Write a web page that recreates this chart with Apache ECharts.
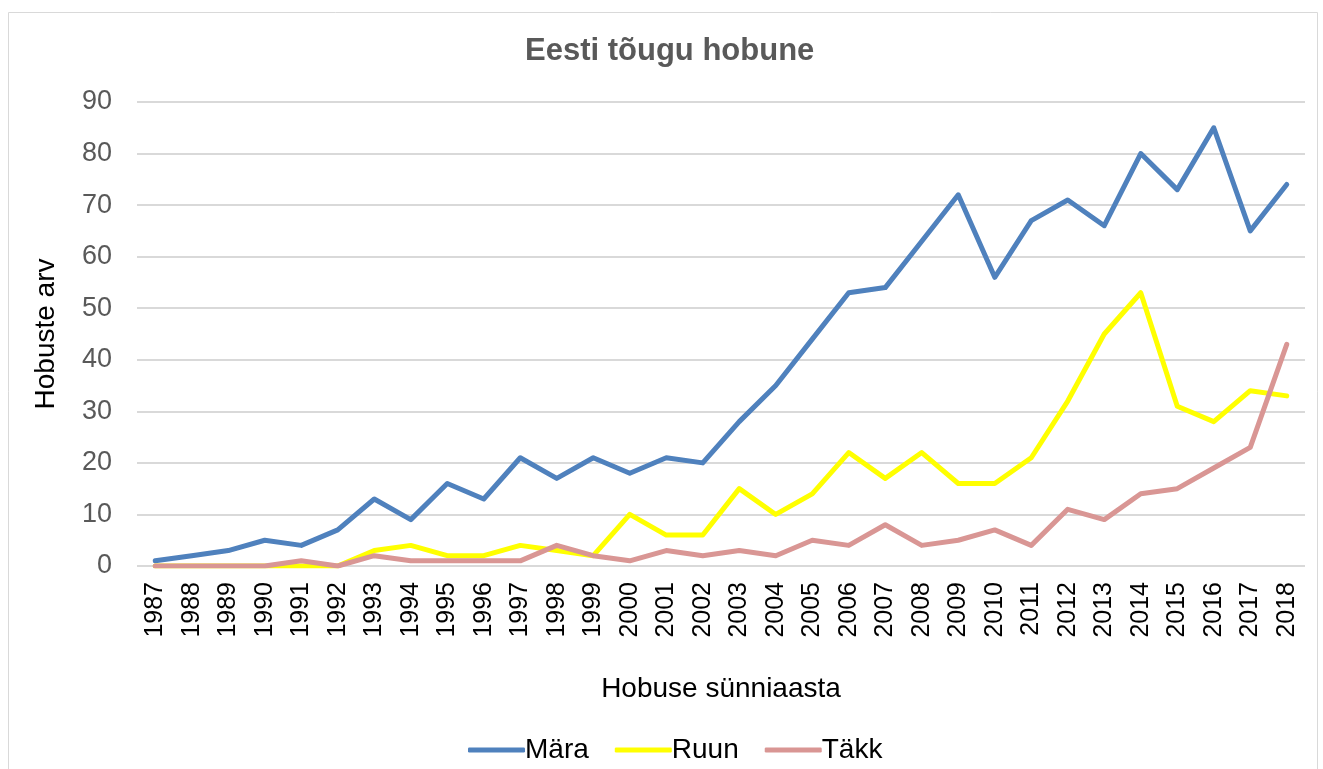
<!DOCTYPE html>
<html>
<head>
<meta charset="utf-8">
<script src="https://cdn.jsdelivr.net/npm/echarts@6/dist/echarts.min.js"></script>
<style>
  html, body { margin: 0; padding: 0; background: #fff; }
  #mychart { width: 1323px; height: 769px; }
</style>
</head>
<body>
<div id="mychart"></div>
<script>
// aastad
const years = ['1987', '1988', '1989', '1990', '1991', '1992', '1993', '1994', '1995', '1996',
  '1997', '1998', '1999', '2000', '2001', '2002', '2003', '2004', '2005', '2006', '2007',
  '2008', '2009', '2010', '2011', '2012', '2013', '2014', '2015', '2016', '2017', '2018'];

const mara = [1, 2, 3, 5, 4, 7, 13, 9, 16, 13, 21, 17, 21, 18, 21, 20, 28, 35, 44, 53, 54,
  63, 72, 56, 67, 71, 66, 80, 73, 85, 65, 74];
const ruun = [0, 0, 0, 0, 0, 0, 3, 4, 2, 2, 4, 3, 2, 10, 6, 6, 15, 10, 14, 22, 17,
  22, 16, 16, 21, 32, 45, 53, 31, 28, 34, 33];
const takk = [0, 0, 0, 0, 1, 0, 2, 1, 1, 1, 1, 4, 2, 1, 3, 2, 3, 2, 5, 4, 8,
  4, 5, 7, 4, 11, 9, 14, 15, 19, 23, 43];

let colors = {
  mara: '#4F81BD',
  ruun: '#FFFF00',
  takk: '#D99694',
  grid: '#d9d9d9',
  label: '#595959',
  text: '#000',
};

const font = 'Liberation Sans, Arial, sans-serif';

function lineSeries(name, data, color) {
  return {
    name: name,
    type: 'line',
    data: data,
    showSymbol: false,
    symbol: 'none',
    color: color,
    lineStyle: { width: 5, color: color, cap: 'round', join: 'round' },
    emphasis: { disabled: true },
  };
}

let option = {
  animation: false,
  textStyle: { fontFamily: font },
  title: {
    text: 'Eesti tõugu hobune',
    left: 520,
    top: 31,
    textStyle: { color: colors.label, fontSize: 31, fontWeight: 'bold', fontFamily: font },
  },
  graphic: [
    {
      type: 'rect',
      shape: { x: 8.5, y: 12.5, width: 1309, height: 780 },
      style: { fill: 'none', stroke: colors.grid, lineWidth: 1 },
      silent: true,
    },
  ],
  grid: { left: 137, right: 18, top: 102, bottom: 203 },
  legend: {
    bottom: 0,
    left: 463,
    itemWidth: 57,
    itemHeight: 5,
    itemGap: 26,
    icon: 'roundRect',
    textStyle: { fontSize: 28, color: colors.text, fontFamily: font, padding: [0, 0, 0, -5] },
    data: ['Mära', 'Ruun', 'Täkk'],
  },
  xAxis: {
    type: 'category',
    data: years,
    boundaryGap: true,
    name: 'Hobuse sünniaasta',
    nameLocation: 'middle',
    nameGap: 109,
    nameTextStyle: { fontSize: 28, color: colors.text, fontFamily: font },
    axisLine: { show: false },
    axisTick: { show: false },
    axisLabel: {
      rotate: 90,
      interval: 0,
      margin: 16,
      fontSize: 25,
      color: colors.text,
      fontFamily: font,
    },
  },
  yAxis: {
    type: 'value',
    min: 0,
    max: 90,
    interval: 10,
    name: 'Hobuste arv',
    nameLocation: 'middle',
    nameGap: 77,
    nameTextStyle: { fontSize: 28, color: colors.text, fontFamily: font },
    axisLine: { show: false },
    axisTick: { show: false },
    axisLabel: { fontSize: 27, color: colors.label, margin: 25, fontFamily: font },
    splitLine: { lineStyle: { color: colors.grid, width: 2 } },
  },
  series: [
    lineSeries('Mära', mara, colors.mara),
    lineSeries('Ruun', ruun, colors.ruun),
    lineSeries('Täkk', takk, colors.takk),
  ],
};

let myChart = echarts.init(document.getElementById('mychart'));
myChart.setOption(option);
</script>
</body>
</html>
